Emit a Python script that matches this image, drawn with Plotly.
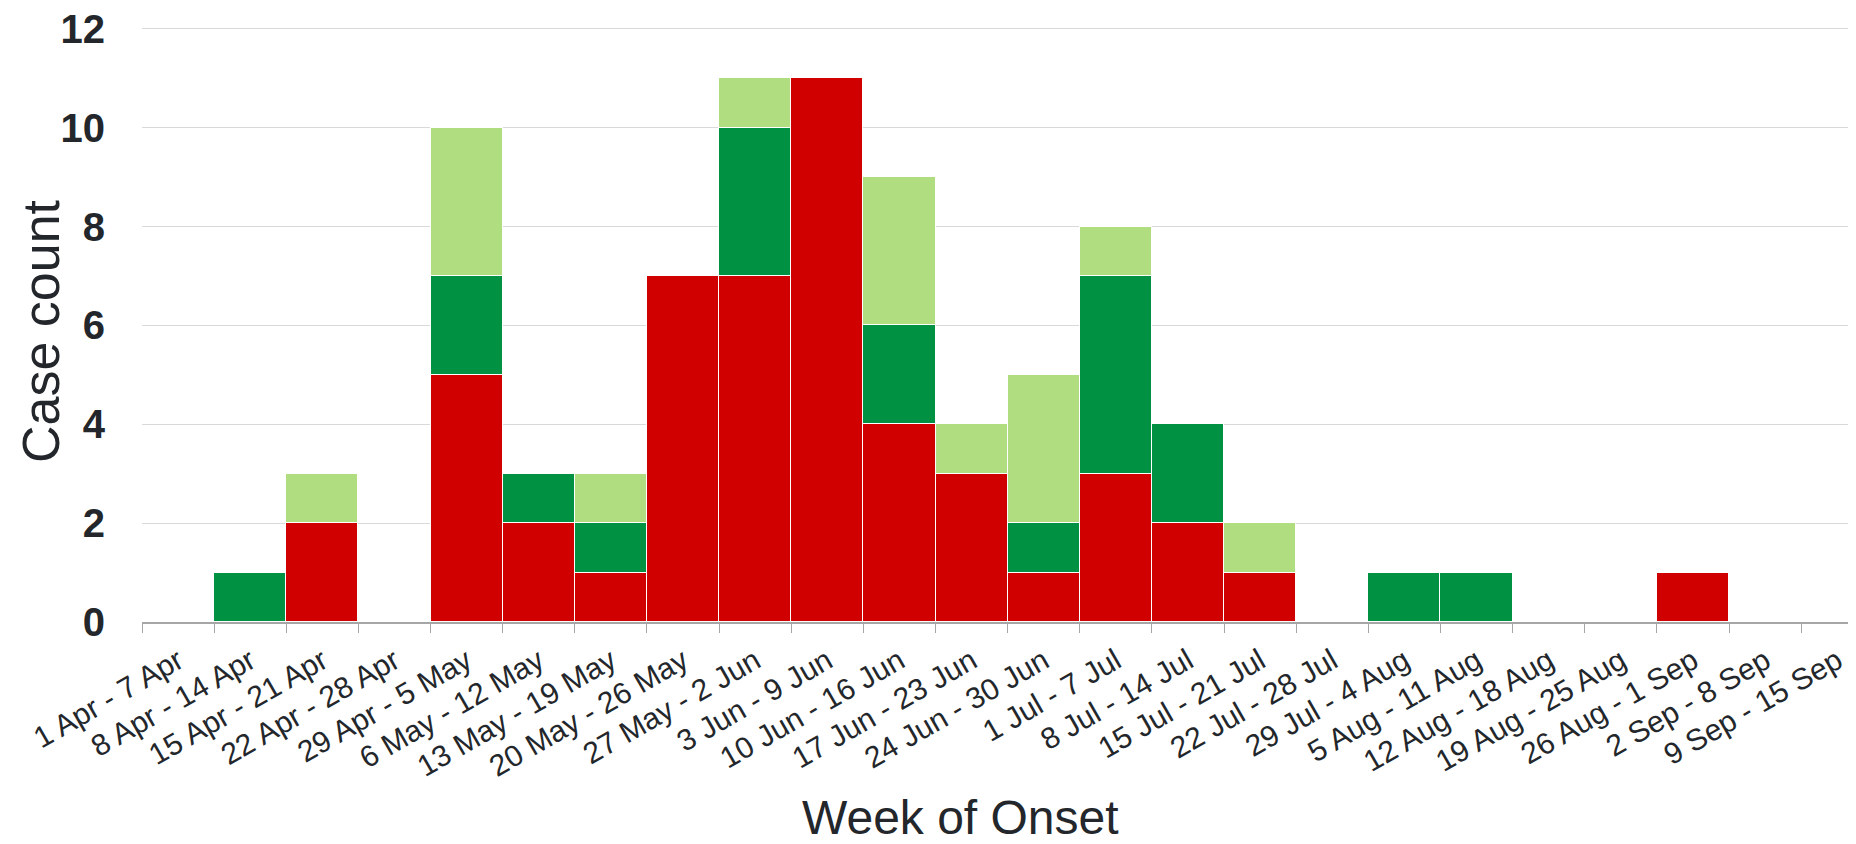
import plotly.graph_objects as go

weeks = ["1 Apr - 7 Apr", "8 Apr - 14 Apr", "15 Apr - 21 Apr", "22 Apr - 28 Apr",
         "29 Apr - 5 May", "6 May - 12 May", "13 May - 19 May", "20 May - 26 May",
         "27 May - 2 Jun", "3 Jun - 9 Jun", "10 Jun - 16 Jun", "17 Jun - 23 Jun",
         "24 Jun - 30 Jun", "1 Jul - 7 Jul", "8 Jul - 14 Jul", "15 Jul - 21 Jul",
         "22 Jul - 28 Jul", "29 Jul - 4 Aug", "5 Aug - 11 Aug", "12 Aug - 18 Aug",
         "19 Aug - 25 Aug", "26 Aug - 1 Sep", "2 Sep - 8 Sep", "9 Sep - 15 Sep"]

red_counts =        [0, 0, 2, 0, 5, 2, 1, 7, 7, 11, 4, 3, 1, 3, 2, 1, 0, 0, 0, 0, 0, 1, 0, 0]
dark_green_counts = [0, 1, 0, 0, 2, 1, 1, 0, 3, 0, 2, 0, 1, 4, 2, 0, 0, 1, 1, 0, 0, 0, 0, 0]
light_green_counts = [0, 0, 1, 0, 3, 0, 1, 0, 1, 0, 3, 1, 3, 1, 0, 1, 0, 0, 0, 0, 0, 0, 0, 0]

y_ticks = [0, 2, 4, 6, 8, 10, 12]

series = [
    ("Red", red_counts, "#D10000"),
    ("Dark green", dark_green_counts, "#009142"),
    ("Light green", light_green_counts, "#B1DD81"),
]

fig = go.Figure()
for name, vals, col in series:
    fig.add_trace(go.Bar(
        x=weeks, y=vals, name=name,
        marker=dict(color=col, line=dict(color="white", width=1.5)),
    ))

# page body has an 8px margin, so the figure origin sits at (8, 8)
OFF = 8
W, H = 1856 - OFF, 844 - OFF
PLOT_TOP, BASE = 26, 622
L, R, T, B = 142 - OFF, 0, PLOT_TOP - OFF, (844 - BASE)
PH = BASE - PLOT_TOP

fig.update_layout(
    width=W, height=H,
    barmode="stack", bargap=0,
    showlegend=False,
    plot_bgcolor="white", paper_bgcolor="white",
    margin=dict(l=L, r=R, t=T, b=B, autoexpand=False),
    font=dict(family="Liberation Sans, Arial, sans-serif", color="#23272b"),
    xaxis=dict(
        type="category",
        range=[-0.5, 23.26],
        tickangle=-30,
        tickfont=dict(size=30, color="#23272b"),
        ticks="outside", ticklen=9, tickwidth=1, tickcolor="#a6a6a6",
        tickson="boundaries",
        ticklabelstandoff=8,
        ticklabeloverflow="allow",
        showline=True, linecolor="#a6a6a6", linewidth=1.5,
        showgrid=False,
        automargin=False,
    ),
    yaxis=dict(
        range=[0, 12.06],
        tickvals=y_ticks,
        tickfont=dict(size=40, color="#23272b", weight="bold"),
        ticks="", ticklabelstandoff=36,
        ticklabeloverflow="allow",
        showgrid=True, gridcolor="#d9d9d9", gridwidth=1,
        zeroline=False, showline=False,
        automargin=False,
    ),
    annotations=[
        dict(text="Week of Onset", xref="paper", yref="paper",
             x=(960 - 142) / (W - L - R), y=-(817 - BASE) / PH,
             xanchor="center", yanchor="middle", showarrow=False,
             font=dict(size=48, color="#23272b")),
        dict(text="Case count", xref="paper", yref="paper",
             x=-(142 - 41) / (W - L - R), y=1 - (331 - PLOT_TOP) / PH,
             xanchor="center", yanchor="middle", showarrow=False, textangle=-90,
             font=dict(size=52, color="#23272b")),
    ],
)

fig.write_html("out.html")
